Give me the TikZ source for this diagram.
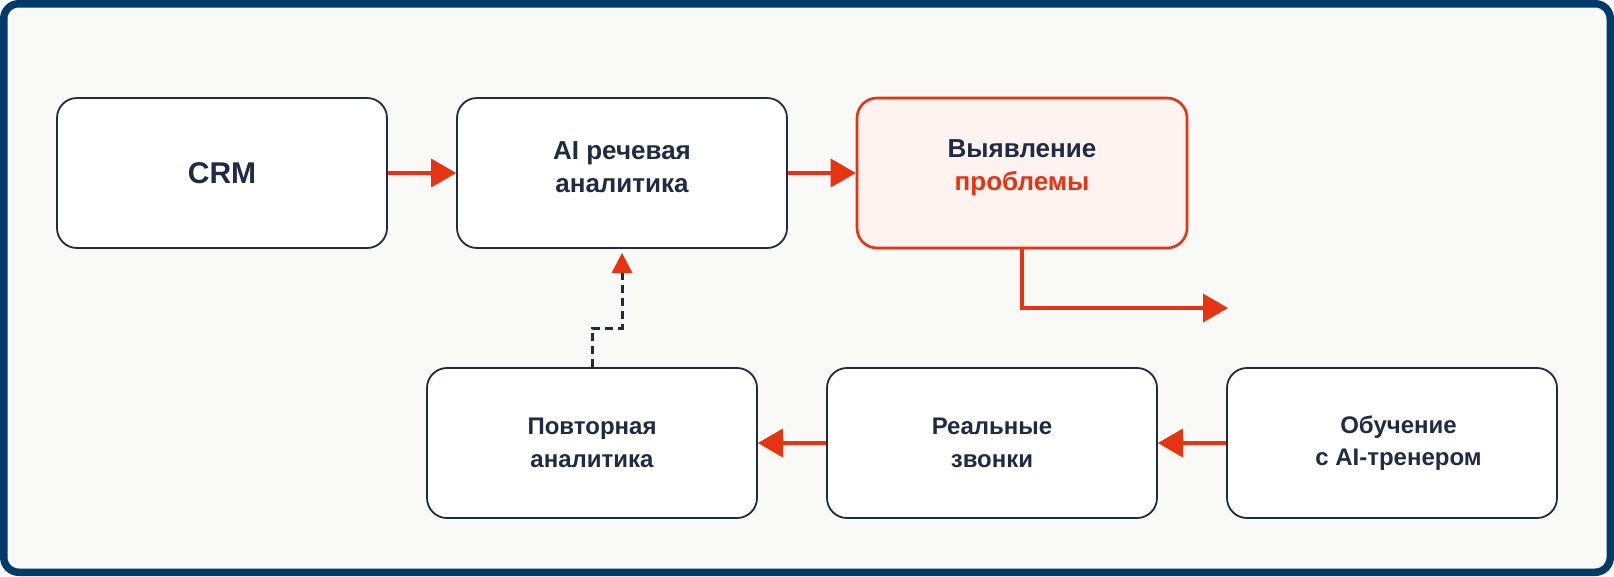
\documentclass[tikz,border=0pt]{standalone}
\usepackage{fontspec}
\setmainfont{Liberation Sans}
\usetikzlibrary{arrows.meta}
\definecolor{frameblue}{HTML}{023A6C}
\definecolor{bgc}{HTML}{F9F9F7}
\definecolor{navy}{HTML}{1F2A44}
\definecolor{redc}{HTML}{E63312}
\definecolor{pinkc}{HTML}{FFF3F2}
\tikzset{
  box/.style={draw=navy, line width=1.8pt, rounded corners=20pt, fill=white,
    minimum width=330pt, minimum height=150pt, align=center, text=navy,
    font=\bfseries\fontsize{24}{32.5}\selectfont, inner sep=0pt},
  topbox/.style={box, font=\bfseries\fontsize{26}{33}\selectfont},
  hotbox/.style={topbox, draw=redc, line width=2.6pt, fill=pinkc},
  redarrow/.style={draw=redc, line width=3.5pt, -{Triangle[length=25pt,width=28pt]}},
  dasharrow/.style={draw=navy, line width=3pt, dash pattern=on 8pt off 5pt,
    -{Triangle[length=20pt,width=20pt,fill=redc,color=redc]}},
}
\begin{document}
\begin{tikzpicture}[x=1pt,y=-1pt]
\useasboundingbox (0,0) rectangle (1614,576);
\draw[fill=bgc, draw=frameblue, line width=7.5pt, rounded corners=15pt] (3.75,3.75) rectangle (1610.25,572.25);
\node[box, font=\bfseries\fontsize{30}{34}\selectfont] (crm) at (222,173) {CRM};
\node[topbox] (ai) at (622,173) {AI речевая\\аналитика\rule[-12.8pt]{0pt}{0pt}};
\node[hotbox] (vy) at (1022,173) {Выявление\\\textcolor{redc}{проблемы}\rule[-15.5pt]{0pt}{0pt}};
\node[box] (pov) at (592,443) {Повторная\\аналитика};
\node[box] (real) at (992,443) {Реальные\\звонки};
\node[box] (obu) at (1392,443) {\hspace*{13pt}Обучение\\\hspace*{13pt}с AI-тренером};
\coordinate (vyend) at (1228,308);
\coordinate (m1) at (592,328);
\coordinate (m2) at (622,328);
\draw[redarrow] (crm.east) -- (ai.west);
\draw[redarrow] (ai.east) -- (vy.west);
\draw[redarrow] (vy.south) |- (vyend);
\draw[redarrow] (real.west) -- (pov.east);
\draw[redarrow] (obu.west) -- (real.east);
\draw[dasharrow, shorten >=4pt] (pov.north) -- (m1) -- (m2) -- (ai.south);
\end{tikzpicture}
\end{document}
